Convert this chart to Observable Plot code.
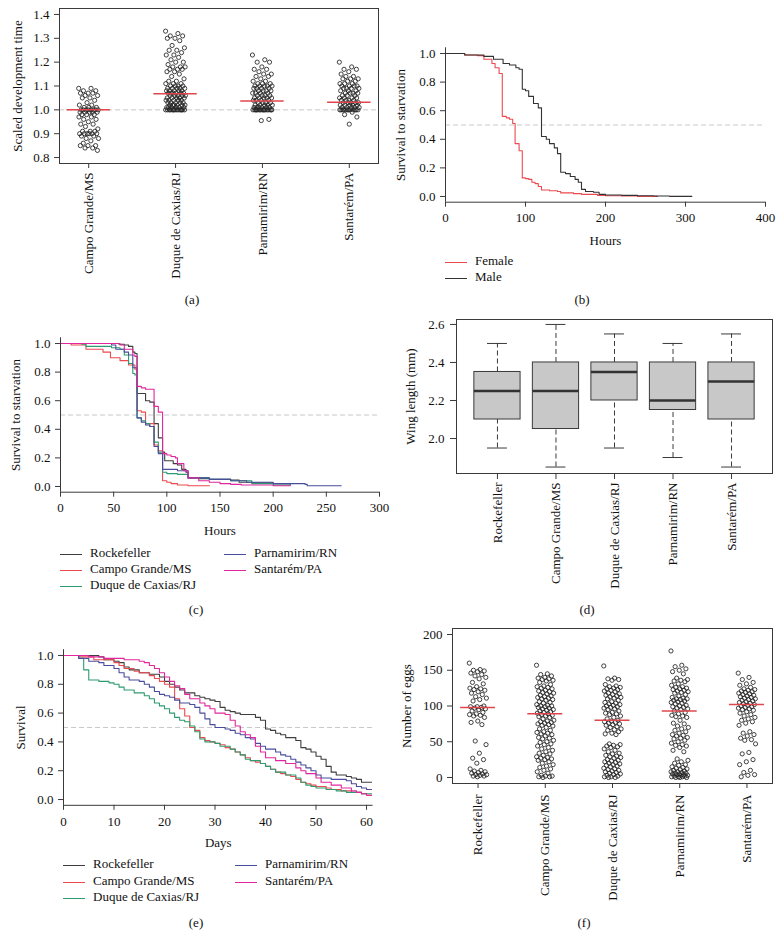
<!DOCTYPE html>
<html><head><meta charset="utf-8">
<script src="https://cdn.jsdelivr.net/npm/d3@7"></script>
<script src="https://cdn.jsdelivr.net/npm/@observablehq/plot@0.6"></script>
<style>
body{margin:0;background:#fff;}
#root{position:relative;width:784px;height:948px;font-family:"Liberation Serif",serif;color:#111;overflow:hidden;}
.panel{position:absolute;}
.cap{position:absolute;font-size:13px;transform:translate(-50%,-50%);}
.leg{position:absolute;font-size:13px;white-space:nowrap;line-height:16px;height:16px;}
.leg .ln{display:inline-block;width:22px;height:0;border-top:1.3px solid;vertical-align:middle;margin-right:8px;}
</style></head><body><div id="root"></div>
<script>
// ---------- DATA ----------
const catsA = ["Campo Grande/MS", "Duque de Caxias/RJ", "Parnamirim/RN", "Santarém/PA"];
const strains = ["Rockefeller", "Campo Grande/MS", "Duque de Caxias/RJ", "Parnamirim/RN", "Santarém/PA"];
const strainColors = ["#3d3d3d", "#ec4a4f", "#2e9c70", "#4a4c9c", "#e0279d"];

// (a) scaled development time
const devCampo = [1.09,1.09,1.08,1.08,1.07,1.07,1.07,1.06,1.06,1.05,1.05,1.04,1.03,1.02,1.02,1.01,1.01,1.01,1.0,1.0,1.0,1.0,1.0,1.0,1.0,1.0,0.99,0.99,0.99,0.99,0.99,0.98,0.98,0.98,0.97,0.97,0.96,0.96,0.95,0.94,0.94,0.93,0.92,0.91,0.91,0.91,0.90,0.90,0.90,0.90,0.90,0.90,0.89,0.89,0.88,0.88,0.87,0.86,0.85,0.85,0.85,0.84,0.84,0.83];
const devDuque = [1.33,1.32,1.31,1.31,1.30,1.30,1.29,1.27,1.26,1.25,1.25,1.24,1.23,1.23,1.22,1.21,1.20,1.20,1.19,1.18,1.18,1.18,1.17,1.17,1.17,1.16,1.16,1.15,1.14,1.13,1.12,1.12,1.11,1.11,1.11,1.10,1.10,1.10,1.10,1.09,1.09,1.09,1.09,1.09,1.08,1.08,1.08,1.08,1.08,1.07,1.07,1.07,1.07,1.07,1.07,1.06,1.06,1.06,1.06,1.06,1.05,1.05,1.05,1.05,1.05,1.04,1.04,1.04,1.04,1.04,1.03,1.03,1.03,1.03,1.03,1.02,1.02,1.02,1.02,1.02,1.02,1.01,1.01,1.01,1.01,1.01,1.01,1.0,1.0,1.0,1.0,1.0,1.0,1.0,1.0,1.0,1.0,1.0,1.0,1.0,1.0,1.0];
const devParna = [1.23,1.21,1.20,1.20,1.18,1.17,1.17,1.16,1.15,1.15,1.14,1.14,1.13,1.12,1.12,1.11,1.11,1.11,1.10,1.10,1.10,1.10,1.10,1.09,1.09,1.09,1.09,1.08,1.08,1.08,1.08,1.07,1.07,1.07,1.07,1.06,1.06,1.06,1.06,1.05,1.05,1.05,1.05,1.05,1.04,1.04,1.04,1.04,1.03,1.03,1.03,1.03,1.02,1.02,1.02,1.02,1.02,1.01,1.01,1.01,1.01,1.01,1.01,1.0,1.0,1.0,1.0,1.0,1.0,1.0,1.0,1.0,1.0,1.0,1.0,1.0,1.0,1.0,1.0,0.96,0.955];
const devSant = [1.20,1.18,1.17,1.17,1.16,1.15,1.14,1.14,1.13,1.13,1.13,1.12,1.12,1.11,1.11,1.11,1.10,1.10,1.10,1.10,1.09,1.09,1.09,1.09,1.08,1.08,1.08,1.07,1.07,1.07,1.07,1.06,1.06,1.06,1.05,1.05,1.05,1.05,1.04,1.04,1.04,1.04,1.03,1.03,1.03,1.03,1.03,1.02,1.02,1.02,1.02,1.02,1.01,1.01,1.01,1.01,1.01,1.0,1.0,1.0,1.0,1.0,1.0,1.0,1.0,1.0,1.0,1.0,1.0,0.99,0.98,0.97,0.94];
const devMeans = [1.0, 1.067, 1.037, 1.032];
const devTicks = [0.8, 0.9, 1.0, 1.1, 1.2, 1.3, 1.4];

// (b) survival to starvation by sex
const femT = [0,24,40,48,58,62,67,71,76,80,84,87,92,96,100,104,108,112,116,120,130,140,144,160,170,190,200,220,240,265];
const femS = [1.0,0.99,0.985,0.96,0.93,0.90,0.86,0.56,0.55,0.54,0.51,0.37,0.32,0.13,0.125,0.12,0.10,0.09,0.07,0.045,0.04,0.035,0.025,0.02,0.015,0.008,0.005,0.003,0.001,0.001];
const maleT = [0,24,48,60,72,80,88,92,96,100,104,110,116,120,126,130,136,140,144,150,156,162,166,170,175,185,192,200,220,240,260,280,308];
const maleS = [1.0,0.99,0.98,0.96,0.93,0.92,0.90,0.89,0.75,0.74,0.70,0.65,0.62,0.42,0.40,0.37,0.34,0.30,0.17,0.16,0.14,0.12,0.10,0.05,0.035,0.03,0.015,0.01,0.008,0.005,0.003,0.001,0.001];
const sexNames = ["Female", "Male"];
const sexColors = ["#ec4a4f", "#333333"];

// (c) survival to starvation by strain (hours)
const rockHT = [0,55,60,64,68,70,72,80,84,88,92,96,98,106,110,114,118,120,130,140,160,168,180,200,216];
const rockHS = [1.0,0.995,0.99,0.98,0.94,0.93,0.65,0.60,0.59,0.44,0.34,0.24,0.18,0.16,0.15,0.12,0.10,0.06,0.055,0.05,0.045,0.03,0.025,0.02,0.01];
const campHT = [0,10,24,40,47,56,64,70,72,76,80,88,92,96,100,104,110,120,140];
const campHS = [1.0,0.99,0.96,0.94,0.90,0.88,0.85,0.82,0.53,0.52,0.44,0.29,0.25,0.04,0.03,0.02,0.01,0.005,0.005];
const duqHT = [0,20,24,48,56,60,64,68,70,72,76,80,84,88,92,96,100,110,120,140,160,180,200,216];
const duqHS = [1.0,0.995,0.98,0.97,0.96,0.92,0.86,0.79,0.78,0.48,0.46,0.44,0.42,0.31,0.24,0.10,0.09,0.085,0.06,0.05,0.04,0.02,0.01,0.01];
const parHT = [0,40,48,52,60,64,68,72,76,80,84,88,92,96,110,120,140,160,175,200,230,232,264];
const parHS = [1.0,1.0,0.99,0.96,0.94,0.92,0.83,0.48,0.45,0.43,0.42,0.28,0.23,0.12,0.11,0.06,0.05,0.04,0.03,0.02,0.015,0.005,0.005];
const sanHT = [0,50,56,60,68,70,72,76,80,88,92,96,100,104,108,110,116,120,130,140,150,160,170,200,216];
const sanHS = [1.0,1.0,0.99,0.96,0.92,0.91,0.70,0.69,0.68,0.56,0.52,0.23,0.22,0.21,0.20,0.16,0.11,0.06,0.04,0.03,0.02,0.015,0.01,0.005,0.005];

// (d) wing length box plots
const wingMin = [1.95, 1.85, 1.95, 1.90, 1.85];
const wingQ1  = [2.10, 2.05, 2.20, 2.15, 2.10];
const wingMed = [2.25, 2.25, 2.35, 2.20, 2.30];
const wingQ3  = [2.35, 2.40, 2.40, 2.40, 2.40];
const wingMax = [2.50, 2.60, 2.55, 2.50, 2.55];

// (e) longevity (days)
const rockDT = [0,4,7,8,10,11,12,13,15,17,19,20,21,22,23,24,26,27,28,29,30,31,32,33,34,35,38,39,40,41,42,43,44,46,47,48,49,50,51,52,53,54,56,57,58,59,61];
const rockDS = [1.0,1.0,0.99,0.97,0.96,0.95,0.92,0.90,0.88,0.87,0.85,0.82,0.80,0.78,0.76,0.74,0.72,0.71,0.70,0.69,0.68,0.64,0.62,0.61,0.60,0.59,0.57,0.55,0.49,0.48,0.46,0.45,0.43,0.41,0.36,0.35,0.33,0.30,0.28,0.23,0.19,0.17,0.16,0.15,0.14,0.12,0.12];
const campDT = [0,3,6,10,11,12,14,15,17,18,19,20,21,22,23,24,25,26,27,28,29,30,31,32,33,34,35,36,37,38,39,40,41,42,43,44,45,46,47,48,49,50,52,53,55,57,59,60,61];
const campDS = [1.0,0.99,0.97,0.95,0.93,0.91,0.89,0.88,0.86,0.84,0.82,0.80,0.78,0.70,0.63,0.58,0.50,0.48,0.43,0.41,0.40,0.39,0.38,0.36,0.35,0.33,0.31,0.29,0.27,0.26,0.25,0.23,0.21,0.19,0.18,0.17,0.16,0.14,0.12,0.11,0.10,0.09,0.08,0.07,0.06,0.05,0.04,0.03,0.03];
const duqDT = [0,3,4,5,7,9,10,11,12,14,16,17,18,19,20,21,22,23,24,25,26,27,28,30,31,33,34,35,36,37,39,40,41,42,44,46,47,48,49,50,52,54,56,59,61];
const duqDS = [1.0,0.98,0.90,0.83,0.82,0.81,0.80,0.78,0.76,0.74,0.72,0.70,0.67,0.65,0.63,0.60,0.57,0.55,0.54,0.51,0.47,0.42,0.40,0.39,0.37,0.35,0.33,0.31,0.28,0.27,0.25,0.23,0.21,0.19,0.17,0.15,0.12,0.10,0.09,0.08,0.07,0.06,0.05,0.04,0.04];
const parDT = [0,3,5,7,8,10,11,12,13,15,16,17,18,19,20,21,22,23,25,26,27,28,29,30,32,33,34,35,36,37,38,39,40,42,43,44,45,46,47,48,49,50,51,53,56,57,58,59,60,61];
const parDS = [1.0,0.98,0.96,0.95,0.93,0.91,0.88,0.85,0.83,0.82,0.80,0.78,0.75,0.73,0.72,0.71,0.69,0.67,0.66,0.64,0.60,0.56,0.52,0.50,0.49,0.48,0.46,0.45,0.43,0.42,0.39,0.37,0.35,0.33,0.31,0.30,0.28,0.26,0.24,0.22,0.20,0.17,0.15,0.14,0.13,0.11,0.09,0.08,0.07,0.07];
const sanDT = [0,5,8,12,15,16,17,18,19,20,21,22,23,24,25,27,28,29,30,32,33,34,35,36,37,38,39,40,42,44,46,47,48,50,51,53,55,57,58,59,60,61];
const sanDS = [1.0,0.99,0.98,0.97,0.96,0.95,0.93,0.91,0.88,0.85,0.82,0.79,0.77,0.73,0.70,0.67,0.65,0.63,0.60,0.59,0.55,0.51,0.47,0.45,0.43,0.37,0.33,0.29,0.27,0.25,0.22,0.20,0.18,0.15,0.12,0.10,0.08,0.06,0.05,0.04,0.03,0.03];

// (f) number of eggs
const eggRock = [160,151,150,149,148,146,144,142,140,138,133,131,127,125,124,123,122,120,118,116,113,111,109,107,100,99,99,98,97,96,95,93,91,89,88,87,86,84,79,77,74,51,46,34,27,25,20,12,10,9,8,7,6,5,4,4,3,2,2,1];
const eggCampo = [157,145,144,142,140,139,138,137,136,135,133,130,128,127,126,125,124,122,121,120,119,118,117,115,114,113,112,111,110,109,108,106,105,104,102,101,100,100,99,98,97,96,95,94,93,92,91,90,89,88,87,86,85,84,82,80,79,78,77,76,75,74,73,72,70,68,66,64,63,62,61,60,58,56,55,54,52,50,49,47,46,44,42,40,38,36,34,33,31,29,28,27,26,25,24,22,20,18,16,14,12,10,8,6,3,2,2,1,1,0];
const eggDuque = [156,139,138,137,136,130,128,127,126,125,124,123,122,121,120,118,117,116,115,114,113,112,111,110,108,106,105,104,103,102,101,100,99,98,97,96,95,93,91,90,89,88,86,84,82,80,79,78,77,76,75,74,73,71,70,68,67,66,64,62,61,60,47,46,45,44,43,42,40,38,36,34,33,31,30,29,28,27,25,24,23,22,21,20,19,18,17,16,15,13,12,11,10,9,8,7,6,5,4,3,2,1,1,0,0];
const eggParna = [177,157,155,152,150,148,145,139,137,136,135,134,131,129,127,126,125,124,123,122,121,120,119,118,116,114,112,111,110,110,109,108,107,106,105,104,103,101,100,99,98,97,96,95,93,91,89,87,86,85,84,80,76,75,72,70,68,66,64,62,60,59,58,56,55,54,52,50,48,46,45,44,42,38,36,26,24,22,20,18,17,15,14,13,12,11,10,9,8,8,7,6,6,5,5,4,4,3,3,2,2,1,1,1,0,0,0];
const eggSant = [146,140,137,133,131,129,126,124,123,122,121,120,119,118,117,116,115,114,113,112,111,110,109,108,107,106,105,104,103,102,101,100,99,98,97,96,95,94,92,90,88,86,84,82,80,78,76,73,64,62,60,58,55,53,52,47,35,33,25,22,18,10,7,4,3,1];
const eggMeans = [98, 89, 80, 93, 102];

// ---------- HELPERS ----------
const root = document.getElementById("root");
const base = {fontFamily: "Liberation Serif, serif", fontSize: "13px", background: "transparent", color: "#111", overflow: "visible"};
const axisC = "#3a3a3a";
const dashC = "#c9c9c9";
const f1 = d3.format(".1f");
const jit = (k, w) => ((((k * 0.61803398875) % 1) - 0.5) * 2 * w);

function place(el, left, top) {
  const d = document.createElement("div");
  d.className = "panel"; d.style.left = left + "px"; d.style.top = top + "px";
  d.appendChild(el); root.appendChild(d);
}
function caption(txt, x, y) {
  const d = document.createElement("div");
  d.className = "cap"; d.textContent = txt; d.style.left = x + "px"; d.style.top = y + "px";
  root.appendChild(d);
}
function legendRow(x, y, name, color) {
  const d = document.createElement("div");
  d.className = "leg"; d.style.left = x + "px"; d.style.top = (y - 8) + "px";
  const s = document.createElement("span"); s.className = "ln"; s.style.borderTopColor = color;
  d.appendChild(s); d.appendChild(document.createTextNode(name));
  root.appendChild(d);
}
function stepRows(name, T, S) { return T.map((t, i) => ({name, t, s: S[i]})); }
function groupPoints(groups, w) {
  return groups.flatMap((vals, g) => vals.map((v, k) => ({g: g + 1, v, x: g + 1 + jit(k, w)})));
}

// ---------- (a) ----------
const devPts = groupPoints([devCampo, devDuque, devParna, devSant], 0.115);
place(Plot.plot({
  width: 392, height: 300, marginLeft: 59, marginRight: 14, marginTop: 8, marginBottom: 137,
  style: base,
  x: {domain: [0.664, 4.336]},
  y: {domain: [0.775, 1.425]},
  marks: [
    Plot.ruleY([1.0], {stroke: dashC, strokeDasharray: "5,3"}),
    Plot.dot(devPts, {x: "x", y: "v", r: 2.1, stroke: "#222", strokeWidth: 0.85, fill: "none"}),
    Plot.ruleY(devMeans, {y: d => d, x1: (d, i) => i + 0.75, x2: (d, i) => i + 1.25, stroke: "#e0474c", strokeWidth: 1.5}),
    Plot.frame({stroke: axisC}),
    Plot.axisX({ticks: [1, 2, 3, 4], tickFormat: i => catsA[i - 1], tickRotate: -90, tickSize: 5, tickPadding: 4, label: null, stroke: axisC}),
    Plot.axisY({ticks: devTicks, tickFormat: f1, tickSize: 5, tickPadding: 5, label: "Scaled development time", labelAnchor: "center", labelArrow: "none", labelOffset: 47, stroke: axisC})
  ]
}), 0, 0);

// ---------- (b) ----------
const sexRows = [...stepRows("Female", femT, femS), ...stepRows("Male", maleT, maleS)];
place(Plot.plot({
  width: 392, height: 300, marginLeft: 53, marginRight: 19, marginTop: 47.3, marginBottom: 98.3,
  style: base,
  x: {domain: [0, 400]},
  y: {domain: [-0.04, 1.04]},
  color: {domain: sexNames, range: sexColors},
  marks: [
    Plot.ruleY([0.5], {stroke: dashC, strokeDasharray: "5,3"}),
    Plot.line(sexRows, {x: "t", y: "s", z: "name", stroke: "name", curve: "step-after", strokeWidth: 1.1}),
    Plot.ruleX([0], {y1: () => -0.04, y2: () => 1.04, stroke: axisC}),
    Plot.ruleY([-0.04], {x1: () => 0, x2: () => 400, stroke: axisC}),
    Plot.axisX({ticks: [0, 100, 200, 300, 400], tickSize: 5, tickPadding: 6, label: "Hours", labelAnchor: "center", labelArrow: "none", labelOffset: 43, stroke: axisC}),
    Plot.axisY({ticks: [0, 0.2, 0.4, 0.6, 0.8, 1.0], tickFormat: f1, tickSize: 5, tickPadding: 5, label: "Survival to starvation", labelAnchor: "center", labelArrow: "none", labelOffset: 50, stroke: axisC})
  ]
}), 392, 0);
legendRow(445, 261, sexNames[0], sexColors[0]);
legendRow(445, 277, sexNames[1], sexColors[1]);

// ---------- (c) ----------
const hourRows = [
  ...stepRows(strains[0], rockHT, rockHS), ...stepRows(strains[1], campHT, campHS),
  ...stepRows(strains[2], duqHT, duqHS), ...stepRows(strains[3], parHT, parHS),
  ...stepRows(strains[4], sanHT, sanHS)];
place(Plot.plot({
  width: 392, height: 300, marginLeft: 60, marginRight: 13, marginTop: 37.3, marginBottom: 108.3,
  style: base,
  x: {domain: [0, 300]},
  y: {domain: [-0.04, 1.04]},
  color: {domain: strains, range: strainColors},
  marks: [
    Plot.ruleY([0.5], {stroke: dashC, strokeDasharray: "5,3"}),
    Plot.line(hourRows, {x: "t", y: "s", z: "name", stroke: "name", curve: "step-after", strokeWidth: 1.1}),
    Plot.ruleX([0], {y1: () => -0.04, y2: () => 1.04, stroke: axisC}),
    Plot.ruleY([-0.04], {x1: () => 0, x2: () => 300, stroke: axisC}),
    Plot.axisX({ticks: [0, 50, 100, 150, 200, 250, 300], tickSize: 5, tickPadding: 6, label: "Hours", labelAnchor: "center", labelArrow: "none", labelOffset: 43, stroke: axisC}),
    Plot.axisY({ticks: [0, 0.2, 0.4, 0.6, 0.8, 1.0], tickFormat: f1, tickSize: 5, tickPadding: 5, label: "Survival to starvation", labelAnchor: "center", labelArrow: "none", labelOffset: 50, stroke: axisC})
  ]
}), 0, 300);
legendRow(60, 553, strains[0], strainColors[0]);
legendRow(60, 569, strains[1], strainColors[1]);
legendRow(60, 585, strains[2], strainColors[2]);
legendRow(224, 553, strains[3], strainColors[3]);
legendRow(224, 569, strains[4], strainColors[4]);

// ---------- (d) ----------
const idx = strains.map((s, i) => i);
place(Plot.plot({
  width: 392, height: 300, marginLeft: 64, marginRight: 12, marginTop: 19, marginBottom: 127,
  style: base,
  x: {domain: [0.3, 5.7]},
  y: {domain: [1.816, 2.626]},
  marks: [
    Plot.ruleX(idx, {x: i => i + 1, y1: i => wingQ3[i], y2: i => wingMax[i], stroke: axisC, strokeDasharray: "5,3"}),
    Plot.ruleX(idx, {x: i => i + 1, y1: i => wingMin[i], y2: i => wingQ1[i], stroke: axisC, strokeDasharray: "5,3"}),
    Plot.ruleY(idx, {y: i => wingMax[i], x1: i => i + 0.83, x2: i => i + 1.17, stroke: axisC}),
    Plot.ruleY(idx, {y: i => wingMin[i], x1: i => i + 0.83, x2: i => i + 1.17, stroke: axisC}),
    Plot.rect(idx, {x1: i => i + 0.605, x2: i => i + 1.395, y1: i => wingQ1[i], y2: i => wingQ3[i], fill: "#c8c8c8", stroke: axisC, strokeWidth: 1}),
    Plot.ruleY(idx, {y: i => wingMed[i], x1: i => i + 0.605, x2: i => i + 1.395, stroke: "#333", strokeWidth: 2.6}),
    Plot.frame({stroke: axisC}),
    Plot.axisX({ticks: [1, 2, 3, 4, 5], tickFormat: i => strains[i - 1], tickRotate: -90, tickSize: 6, tickPadding: 3, label: null, stroke: axisC}),
    Plot.axisY({ticks: [2.0, 2.2, 2.4, 2.6], tickFormat: f1, tickSize: 6, tickPadding: 6, label: "Wing length (mm)", labelAnchor: "center", labelArrow: "none", labelOffset: 51, stroke: axisC})
  ]
}), 392, 300);

// ---------- (e) ----------
const dayRows = [
  ...stepRows(strains[0], rockDT, rockDS), ...stepRows(strains[1], campDT, campDS),
  ...stepRows(strains[2], duqDT, duqDS), ...stepRows(strains[3], parDT, parDS),
  ...stepRows(strains[4], sanDT, sanDS)];
place(Plot.plot({
  width: 392, height: 300, marginLeft: 63, marginRight: 19.4, marginTop: 49.2, marginBottom: 95.2,
  style: base,
  x: {domain: [0, 61.3]},
  y: {domain: [-0.04, 1.04]},
  color: {domain: strains, range: strainColors},
  marks: [
    Plot.ruleY([0.5], {stroke: dashC, strokeDasharray: "5,3"}),
    Plot.line(dayRows, {x: "t", y: "s", z: "name", stroke: "name", curve: "step-after", strokeWidth: 1.1}),
    Plot.ruleX([0], {y1: () => -0.04, y2: () => 1.04, stroke: axisC}),
    Plot.ruleY([-0.04], {x1: () => 0, x2: () => 61.3, stroke: axisC}),
    Plot.axisX({ticks: [0, 10, 20, 30, 40, 50, 60], tickSize: 5, tickPadding: 6, label: "Days", labelAnchor: "center", labelArrow: "none", labelOffset: 42, stroke: axisC}),
    Plot.axisY({ticks: [0, 0.2, 0.4, 0.6, 0.8, 1.0], tickFormat: f1, tickSize: 5, tickPadding: 5, label: "Survival", labelAnchor: "center", labelArrow: "none", labelOffset: 48, stroke: axisC})
  ]
}), 0, 600);
legendRow(63, 864, strains[0], strainColors[0]);
legendRow(63, 881, strains[1], strainColors[1]);
legendRow(63, 897, strains[2], strainColors[2]);
legendRow(235, 864, strains[3], strainColors[3]);
legendRow(235, 881, strains[4], strainColors[4]);

// ---------- (f) ----------
const eggPts = groupPoints([eggRock, eggCampo, eggDuque, eggParna, eggSant], 0.13);
place(Plot.plot({
  width: 392, height: 300, marginLeft: 60, marginRight: 12, marginTop: 28, marginBottom: 117,
  style: base,
  x: {domain: [0.62, 5.38]},
  y: {domain: [-8.4, 208.4]},
  marks: [
    Plot.dot(eggPts, {x: "x", y: "v", r: 2.1, stroke: "#222", strokeWidth: 0.85, fill: "none"}),
    Plot.ruleY(eggMeans, {y: d => d, x1: (d, i) => i + 0.74, x2: (d, i) => i + 1.26, stroke: "#e0474c", strokeWidth: 1.5}),
    Plot.frame({stroke: axisC}),
    Plot.axisX({ticks: [1, 2, 3, 4, 5], tickFormat: i => strains[i - 1], tickRotate: -90, tickSize: 5, tickPadding: 6, label: null, stroke: axisC}),
    Plot.axisY({ticks: [0, 50, 100, 150, 200], tickSize: 5, tickPadding: 5, label: "Number of eggs", labelAnchor: "center", labelArrow: "none", labelOffset: 51, stroke: axisC})
  ]
}), 392, 600);

caption("(a)", 192, 300);
caption("(b)", 582, 300);
caption("(c)", 196, 610);
caption("(d)", 587, 610);
caption("(e)", 196, 923);
caption("(f)", 584, 923);
</script></body></html>
